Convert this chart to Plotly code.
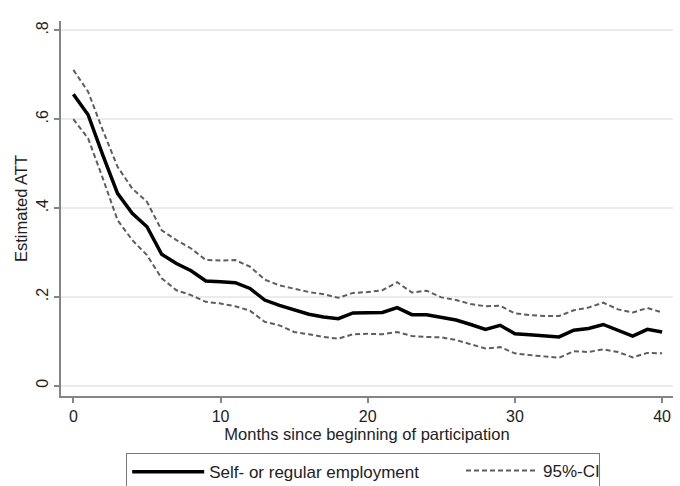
import plotly.graph_objects as go

months = list(range(0, 41))
att = [0.656, 0.610, 0.519, 0.433, 0.388, 0.358, 0.296, 0.275, 0.259, 0.236,
       0.234, 0.232, 0.219, 0.193, 0.181, 0.170, 0.161, 0.155, 0.151, 0.164,
       0.164, 0.165, 0.176, 0.160, 0.160, 0.154, 0.148, 0.138, 0.127, 0.136,
       0.117, 0.115, 0.112, 0.110, 0.125, 0.129, 0.138, 0.125, 0.112, 0.127,
       0.121]
ci_upper = [0.711, 0.662, 0.575, 0.493, 0.444, 0.414, 0.350, 0.328, 0.309, 0.283,
            0.282, 0.283, 0.268, 0.239, 0.226, 0.219, 0.211, 0.206, 0.198, 0.209,
            0.211, 0.215, 0.233, 0.210, 0.214, 0.199, 0.193, 0.184, 0.179, 0.180,
            0.163, 0.159, 0.157, 0.157, 0.170, 0.176, 0.187, 0.172, 0.165, 0.175,
            0.165]
ci_lower = [0.600, 0.557, 0.467, 0.373, 0.328, 0.294, 0.242, 0.215, 0.204, 0.189,
            0.185, 0.179, 0.169, 0.144, 0.136, 0.121, 0.116, 0.110, 0.106, 0.116,
            0.117, 0.116, 0.121, 0.112, 0.110, 0.109, 0.103, 0.094, 0.084, 0.087,
            0.073, 0.069, 0.066, 0.063, 0.078, 0.076, 0.082, 0.076, 0.064, 0.074,
            0.073]

y_tickvals = [0, 0.2, 0.4, 0.6, 0.8]
y_ticktext = ["0", ".2", ".4", ".6", ".8"]
x_tickvals = [0, 10, 20, 30, 40]

FONT = "Liberation Sans, Arial, Helvetica, sans-serif"
AXIS_COLOR = "#858585"
CI_COLOR = "#5e5e5e"

fig = go.Figure()
fig.add_trace(go.Scatter(
    x=months, y=att, mode="lines", name="Self- or regular employment",
    line=dict(color="black", width=3.5), legend="legend",
))
fig.add_trace(go.Scatter(
    x=months, y=ci_upper, mode="lines", name="95%-CI",
    line=dict(color=CI_COLOR, width=2, dash="5px,3px"), legend="legend2",
))
fig.add_trace(go.Scatter(
    x=months, y=ci_lower, mode="lines", name="95%-CI", showlegend=False,
    line=dict(color=CI_COLOR, width=2, dash="5px,3px"), legend="legend2",
))

fig.update_layout(
    width=680, height=486,
    margin=dict(l=61, r=7, t=21, b=90),
    paper_bgcolor="white", plot_bgcolor="white",
    font=dict(family=FONT, size=15, color="#222222"),
    showlegend=True,
    legend=dict(
        orientation="h",
        xref="container", yref="container",
        x=126 / 680, xanchor="left", y=1 - 453 / 486, yanchor="top",
        bordercolor="#777777", borderwidth=1.2, bgcolor="white",
        font=dict(size=17, color="#222222"),
        itemwidth=72,
        entrywidth=384, entrywidthmode="pixels",
    ),
    legend2=dict(
        orientation="h",
        xref="container", yref="container",
        x=461 / 680, xanchor="left", y=1 - 453 / 486, yanchor="top",
        borderwidth=0, bgcolor="rgba(0,0,0,0)",
        font=dict(size=17, color="#222222"),
        itemwidth=72,
    ),
    xaxis=dict(
        range=[-0.84, 40.74], tickvals=x_tickvals,
        showgrid=False, zeroline=False,
        showline=True, linecolor=AXIS_COLOR, linewidth=1.5,
        ticks="outside", ticklen=5, tickcolor=AXIS_COLOR, tickwidth=1.5,
        tickfont=dict(size=16),
        title=dict(text="Months since beginning of participation",
                   font=dict(size=16.5), standoff=2),
    ),
    yaxis=dict(
        range=[-0.023, 0.821], tickvals=y_tickvals, ticktext=y_ticktext,
        tickangle=-90,
        showgrid=True, gridcolor="#ebebeb", gridwidth=1.5, zeroline=False,
        showline=True, linecolor=AXIS_COLOR, linewidth=1.5,
        ticks="outside", ticklen=5, tickcolor=AXIS_COLOR, tickwidth=1.5,
        tickfont=dict(size=16),
        title=dict(text="Estimated ATT", font=dict(size=16.5), standoff=2),
    ),
)

fig.write_html("out.html",
               config={"displayModeBar": False},
               post_script="document.body.style.margin='0';")
